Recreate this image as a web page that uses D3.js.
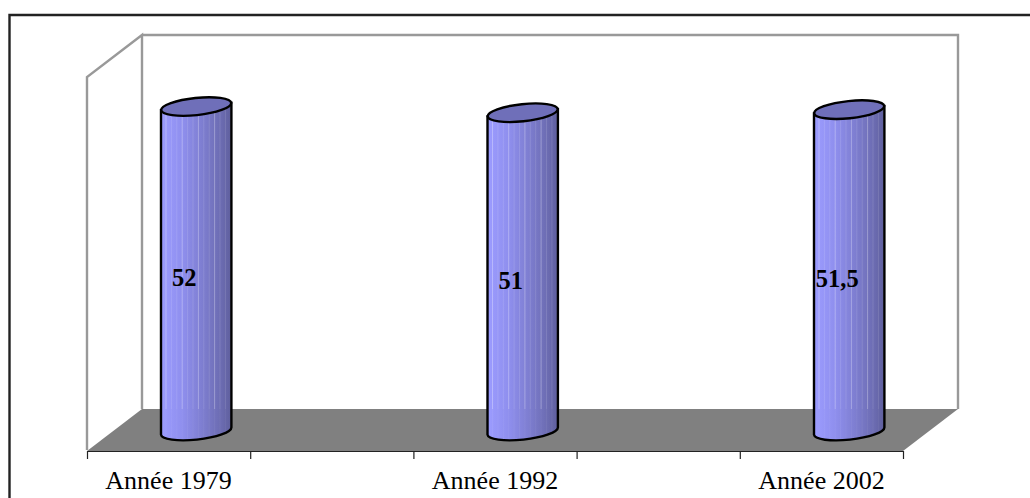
<!DOCTYPE html>
<html><head><meta charset="utf-8">
<script src="https://cdn.jsdelivr.net/npm/d3@7/dist/d3.min.js"></script>
<style>html,body{margin:0;padding:0;background:#fff}svg{display:block}text{font-family:"Liberation Serif",serif;fill:#000}</style>
</head><body><svg id="c" width="1030" height="498"></svg>
<script>
const categories = ["Année 1979","Année 1992","Année 2002"];
const values = [52,51,51.5];
const valueLabels = ["52","51","51,5"];
const tickSteps = [0,1,2,3,4,5];

const svg = d3.select("#c");
const x0=87,x1=903,yFront=450,depthX=55,depthY=41,wallTop=35;
const barBaseY=431, barRx=35.2, barRy=8.6, tilt=-6;
const x = d3.scalePoint().domain(categories).range([168,821]);
const xt = d3.scaleLinear().domain([0,5]).range([x0,x1]);
const y = d3.scaleLinear().domain([0,60]).range([barBaseY,barBaseY-374.4]);
const barOffset = 28.2;

// frame
svg.append("path").attr("d","M9.5,498V15H1030").attr("fill","none").attr("stroke","#222").attr("stroke-width",2.4);

// gradient
const defs = svg.append("defs");
const g = defs.append("linearGradient").attr("id","cyl");
[[0,"#9c9cff"],[0.3,"#8f8fee"],[0.6,"#7d7dcf"],[0.85,"#6c6cb2"],[1,"#5f5f9d"]].forEach(s=>g.append("stop").attr("offset",s[0]).attr("stop-color",s[1]));

// floor and walls
svg.append("path").attr("d",`M${x0},${yFront+1}L${x1},${yFront+1}L${x1+depthX},${yFront-depthY}L${x0+depthX},${yFront-depthY}Z`).attr("fill","#808080");
svg.append("path").attr("d",`M${x0},${yFront}V77L${x0+depthX},${wallTop}V${yFront-depthY}M${x0+depthX},${wallTop}H${x1+depthX}V${yFront-depthY}`)
  .attr("fill","none").attr("stroke","#999").attr("stroke-width",2.4);

// axis
const axisTicks = d3.axisBottom(xt).tickValues(tickSteps).tickFormat("").tickSize(8).tickSizeOuter(0);
const ax = svg.append("g").attr("transform",`translate(0,${yFront+1})`).call(axisTicks);
ax.selectAll("path,line").attr("stroke","#222").attr("stroke-width",1.2);
const axisLabels = d3.axisBottom(x).tickSize(0).tickSizeOuter(0).tickPadding(0);
const al = svg.append("g").attr("transform","translate(0,471)").call(axisLabels);
al.select("path").remove();
al.selectAll("text").attr("font-size",26).attr("font-family","Liberation Serif").attr("fill","#000");

// cylinders
const rad = tilt*Math.PI/180, dy = barRx*Math.sin(rad);
categories.forEach((c,i)=>{
  const cx = x(c)+barOffset, top = y(values[i]), L=cx-barRx, R=cx+barRx;
  const body = `M${L},${top-dy}L${L},${barBaseY-dy}A${barRx},${barRy} ${tilt} 0 0 ${R},${barBaseY+dy}L${R},${top+dy}Z`;
  const clipId = "clip"+i;
  defs.append("clipPath").attr("id",clipId).append("path").attr("d",body);
  svg.append("path").attr("d",body).attr("fill","url(#cyl)");
  const st = svg.append("g").attr("clip-path",`url(#${clipId})`);
  d3.range(5,70,5.4).forEach((o,k)=>{
    st.append("line").attr("x1",L+o).attr("x2",L+o).attr("y1",top-dy-12).attr("y2",yFront-depthY)
      .attr("stroke","#fff").attr("stroke-opacity",k%3==0?0.3:0.12).attr("stroke-width",1);
    st.append("line").attr("x1",L+o).attr("x2",L+o).attr("y1",yFront-depthY).attr("y2",barBaseY+20)
      .attr("stroke","#fff").attr("stroke-opacity",0.05).attr("stroke-width",1);
  });
  svg.append("path").attr("d",body).attr("fill","none").attr("stroke","#000").attr("stroke-width",2.4);
  svg.append("ellipse").attr("transform",`translate(${cx},${top}) rotate(${tilt})`).attr("rx",barRx).attr("ry",barRy)
    .attr("fill","#6f6fb9").attr("stroke","#000").attr("stroke-width",2.4);
  svg.append("text").attr("x",cx-12).attr("y",(top+barBaseY)/2+17).attr("text-anchor","middle")
    .attr("font-size",24.5).attr("font-weight","bold").text(valueLabels[i]);
});
</script></body></html>
